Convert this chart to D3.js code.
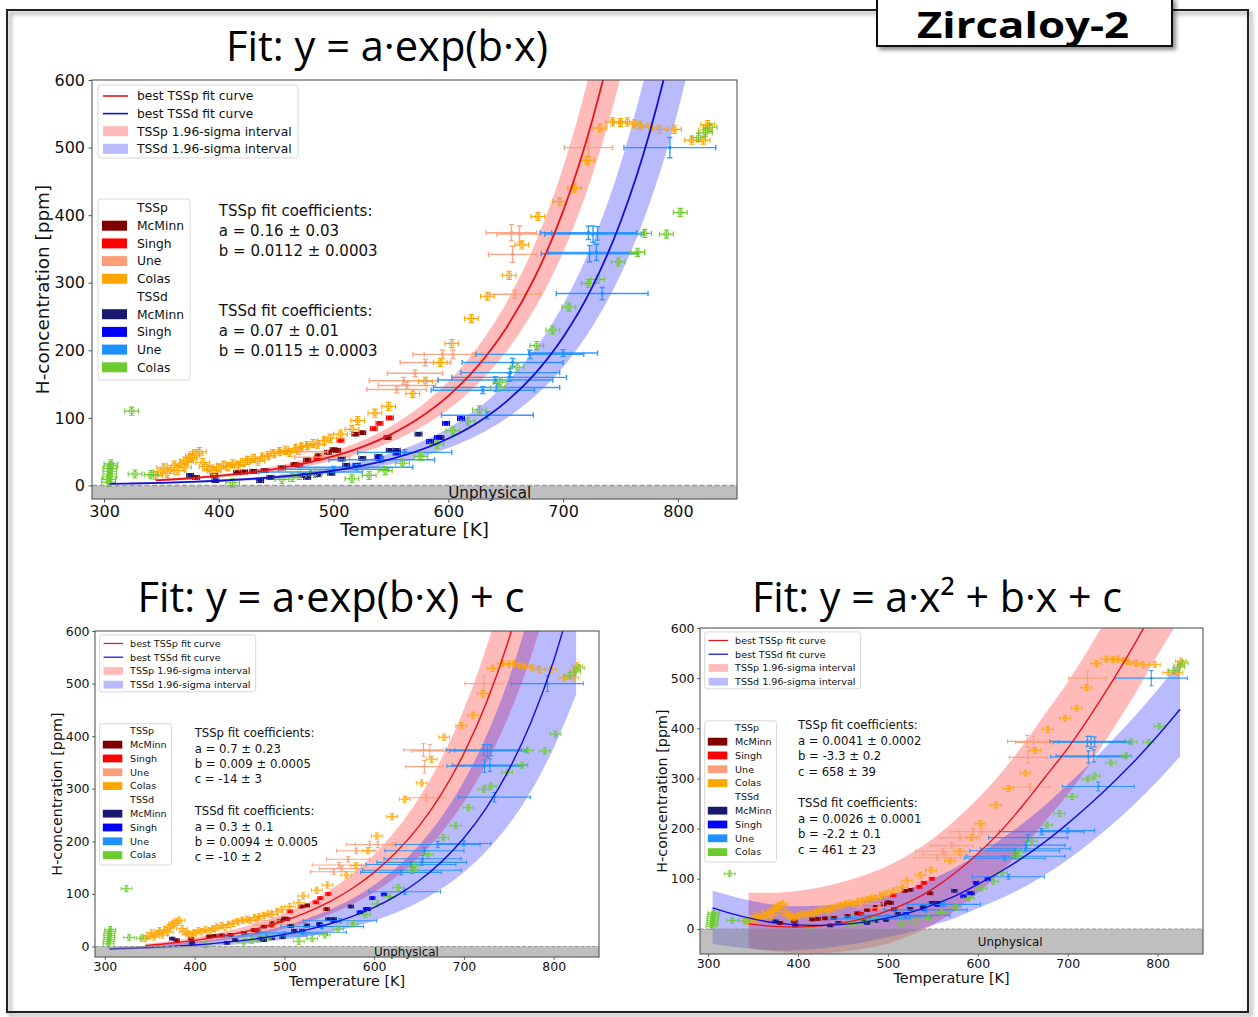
<!DOCTYPE html>
<html>
<head>
<meta charset="utf-8">
<script src="https://cdn.jsdelivr.net/npm/d3@7"></script>
<style>
  body { margin: 0; background: #fff; }
  svg { display: block; }
</style>
</head>
<body>
<svg id="chart" width="1258" height="1017"></svg>
<script>
// ---------- data ----------
const tickT = [300, 400, 500, 600, 700, 800];
const tickH = [0, 100, 200, 300, 400, 500, 600];

const seriesNames = ["McMinn", "Singh", "Une", "Colas"];
const tsspColors = ["#800000", "#ff0000", "#fa9e7a", "#ffa500"];
const tssdColors = ["#191970", "#0000ff", "#1e90ff", "#6ccc2e"];

// [T, H] or [T, H, xerr, yerr]
const tsspMcMinn = [[380,12],[396,15],[416,19],[422,20],[430,21],[440,22],[455,26],[466,31],[477,38],[487,44],[495,49],[500,53],[503,52],[519,76],[525,78],[547,71]];
const tsspSingh = [[470,30],[486,40],[506,67],[535,84],[540,92],[549,100]];
const tsspUne = [[470,50,25,4],[490,42,24,4],[555,142,26,5],[561,155,30,5],[564,148,25,5],[571,166,24,5],[580,182,22,5],[595,194,26,6],[604,194,25,6],[658,283,22,6],[656,342,21,12],[655,374,22,12],[662,372,20,12],[722,500,21,14]];
const tsspColas = [[345,15],[349,20],[352,26],[355,18],[358,24],[361,30],[364,22],[367,32],[370,27],[372,36],[375,40],[377,44],[380,47],[383,50],[386,34],[389,28],[392,24],[396,22],[400,26],[404,30],[408,28],[412,32],[417,30],[421,34],[425,37],[430,40],[434,36],[438,42],[443,44],[448,47],[453,50],[458,52],[462,49],[467,55],[472,57],[477,59],[482,62],[486,61],[492,66],[497,70],[506,76],[516,83],[521,96],[536,107],[548,117],[569,136],[580,154],[593,182],[603,210],[620,247],[634,280],[653,311],[664,356],[678,398],[697,420],[710,440],[721,481],[732,529],[743,538],[750,537],[756,538],[762,535],[767,533],[776,530],[784,527],[797,527],[812,511],[822,511],[824,526],[826,534]];

const tssdMcMinn = [[375,15],[397,7],[436,7],[445,12],[473,15],[477,12],[486,16],[498,18],[507,39],[511,30],[525,40],[539,43],[549,52],[555,52],[574,76],[593,71]];
const tssdSingh = [[520,30],[540,40],[555,48],[584,65],[591,71],[598,92],[611,99]];
const tssdUne = [[480,20,45,4],[500,24,48,4],[520,27,49,4],[542,38,46,4],[562,49,41,4],[634,104,40,5],[630,141,45,5],[642,145,55,6],[641,156,50,5],[653,160,50,6],[654,167,43,6],[656,182,44,6],[671,194,47,6],[700,196,30,5],[734,284,40,9],[723,343,42,12],[729,345,42,12],[722,374,42,10],[726,372,42,12],[730,373,40,10],[793,500,40,15]];
const tssdColas = [[304,5],[304,9],[305,13],[305,17],[305,21],[305,25],[306,29],[306,32],[324,110],[327,17],[341,16],[412,4],[455,9],[464,12],[470,15],[484,18],[516,10],[531,15],[545,22],[560,33],[576,43],[590,61],[604,81],[617,95],[627,112],[643,145],[645,153],[660,175],[677,207],[691,230],[705,264],[722,299],[730,305],[748,331],[765,345],[771,373],[790,372],[802,404],[818,515],[824,522],[828,530]];

// default error bars [xerr, yerr] for series without per-point errors
const defaultErr = { McMinn: [3, 2.5], Singh: [3, 2.5], Une: [20, 5], Colas: [6, 6] };

// fit curves and 1.96-sigma bands
const tsspT = [345,375,400,425,450,475,500,525,550,575,600,625,650,675,700,725,750,775,800,825];
const tssdT = [305,325,350,375,400,425,450,475,500,525,550,575,600,625,650,675,700,725,750,775,800,825];

// panel 1: y = a*exp(b*x)
const expP_fit = [7.6,10.7,14.1,18.7,24.7,32.7,43.3,57.2,75.7,100.2,132.6,175.5,232,307,406,538,711,941,1245,1648];
const expP_lo = [6.5,9.1,12.0,15.9,21.0,27.8,36.8,48.6,64.3,85.2,112.7,149.2,197,261,345,457,604,800,1058,1401];
const expP_hi = [8.8,12.4,16.4,21.7,28.7,37.9,50.2,66.4,87.8,116.2,153.8,203.6,269,356,471,624,825,1092,1444,1912];
const expD_fit = [2.3,2.9,3.9,5.2,7.0,9.3,12.4,16.5,22.0,29.3,39.1,52.1,69.5,92.6,123.4,164.5,219.3,292.4,389.8,519.6,692.8,923];
const expD_lo = [1.8,2.3,3.1,4.2,5.6,7.4,9.9,13.2,17.6,23.4,31.3,41.7,55.6,74.1,98.7,131.6,175.4,233.9,311.8,415.7,554.2,738];
const expD_hi = [2.8,3.6,4.8,6.3,8.5,11.3,15.1,20.1,26.8,35.7,47.7,63.6,84.8,113.0,150.5,200.7,267.5,356.7,475.6,633.9,845,1126];

// panel 2: y = a*exp(b*x) + c
const expcP_fit = [1.6,6.5,11.6,18.1,26.2,36.3,49.0,64.9,84.8,109.8,141.0,180.1,229.0,290.4,367.2,463.3,583.9,734.7,923.6,1160];
const expcP_lo = [-2.2,1.5,5.4,10.3,16.4,24.1,33.7,45.7,60.8,79.7,103.3,133.0,170.0,216.4,274.6,347.4,438.7,552.8,695.7,875];
const expcP_hi = [5.1,11.0,17.3,25.1,35.0,47.4,62.9,82.2,106.6,137.0,175.1,222.8,282.5,357.3,451.1,568.4,715.4,899,1130,1418];
const expcD_fit = [-4.7,-3.6,-1.9,0.2,2.9,6.3,10.6,16.1,23.0,31.7,42.8,56.8,74.4,96.8,125.1,160.9,206.2,263.4,335.9,427.5,543.4,690];
const expcD_lo = [-6.3,-5.5,-4.4,-2.9,-1.0,1.4,4.4,8.2,13.1,19.2,26.9,36.7,49.1,64.8,84.6,109.6,141.3,181.4,232.1,296.3,377.4,479.9];
const expcD_hi = [-2.1,-0.5,2.1,5.3,9.3,14.4,20.9,29.1,39.5,52.6,69.2,90.1,116.7,150.2,192.6,246.4,314.2,400.2,508.8,646.3,820,1040];

// panel 3: y = a*x^2 + b*x + c
const quadP_fit = [10,5,4,6,12,22,36,55,80,112,150,194,246,303,360,425,495,570,650,726];
const quadP_lo = [-38,-45,-48,-49,-45,-39,-29,-13,8,37,72,112,161,215,268,330,397,469,546,619];
const quadP_hi = [72,72,76,83,94,108,126,150,180,217,260,309,366,429,492,563,640,722,808,891];
const quadD_fit = [42,31,20,12,8,7,9,14,22,33,48,66,89,114,142,174,210,249,291,336,385,438];
const quadD_lo = [-30,-35,-40,-43,-42,-39,-33,-26,-16,-6,8,22,41,60,82,108,138,172,209,250,295,344];
const quadD_hi = [76,66,55,48,45,46,49,56,67,81,100,122,149,178,210,247,288,331,377,425,477,532];

const coefExp = [["a = 0.16 ± 0.03", "b = 0.0112 ± 0.0003"], ["a = 0.07 ± 0.01", "b = 0.0115 ± 0.0003"]];
const coefExpC = [["a = 0.7 ± 0.23", "b = 0.009 ± 0.0005", "c = -14 ± 3"], ["a = 0.3 ± 0.1", "b = 0.0094 ± 0.0005", "c = -10 ± 2"]];
const coefQuad = [["a = 0.0041 ± 0.0002", "b = -3.3 ± 0.2", "c = 658 ± 39"], ["a = 0.0026 ± 0.0001", "b = -2.2 ± 0.1", "c = 461 ± 23"]];

// ---------- layout ----------
const panels = [
  { left: 92, top: 80, w: 645, h: 419, xDom: [289.5, 851.5], yDom: [-20, 600], s: 1,
    title: "Fit: y = a·exp(b·x)", titleX: 387, titleY: 61, titleLen: 322,
    pFit: expP_fit, pLo: expP_lo, pHi: expP_hi, dFit: expD_fit, dLo: expD_lo, dHi: expD_hi, coef: coefExp },
  { left: 95, top: 631, w: 504, h: 326, xDom: [289, 850.5], yDom: [-20, 600], s: 0.78,
    title: "Fit: y = a·exp(b·x) + c", titleX: 331, titleY: 612, titleLen: 387,
    pFit: expcP_fit, pLo: expcP_lo, pHi: expcP_hi, dFit: expcD_fit, dLo: expcD_lo, dHi: expcD_hi, coef: coefExpC },
  { left: 700, top: 628, w: 503, h: 326, xDom: [291, 850.5], yDom: [-50, 600], s: 0.78,
    title: "Fit: y = a·x² + b·x + c", titleX: 937, titleY: 612, titleLen: 370,
    pFit: quadP_fit, pLo: quadP_lo, pHi: quadP_hi, dFit: quadD_fit, dLo: quadD_lo, dHi: quadD_hi, coef: coefQuad }
];

const FONT = "DejaVu Sans, sans-serif";
const svg = d3.select("#chart");
svg.append("rect").attr("width", 1258).attr("height", 1017).attr("fill", "#fff");

const defs = svg.append("defs");
const shadow = defs.append("filter").attr("id", "shadow").attr("x", "-10%").attr("y", "-10%").attr("width", "130%").attr("height", "140%");
shadow.append("feDropShadow").attr("dx", 3).attr("dy", 3).attr("stdDeviation", 2)
  .attr("flood-color", "#000").attr("flood-opacity", 0.45);

// outer frame
svg.append("path")
  .attr("d", "M877,10 H7 V1012 H1248 V10 H1172")
  .attr("fill", "none").attr("stroke", "#222").attr("stroke-width", 2)
  .attr("filter", "url(#shadow)");

// title box
svg.append("rect").attr("x", 877).attr("y", -2).attr("width", 295).attr("height", 48)
  .attr("fill", "#fff").attr("stroke", "#111").attr("stroke-width", 2)
  .attr("filter", "url(#shadow)");
svg.append("text").attr("x", 917).attr("y", 38)
  .attr("font-family", "Open Sans, sans-serif").attr("font-weight", 700).attr("font-size", 36)
  .attr("textLength", 212).attr("lengthAdjust", "spacingAndGlyphs")
  .attr("fill", "#000").text("Zircaloy-2");

panels.forEach(function(p, i) {
  const s = p.s;
  const x = d3.scaleLinear().domain(p.xDom).range([p.left, p.left + p.w]);
  const y = d3.scaleLinear().domain(p.yDom).range([p.top + p.h, p.top]);
  const g = svg.append("g");

  defs.append("clipPath").attr("id", "clip" + i)
    .append("rect").attr("x", p.left).attr("y", p.top).attr("width", p.w).attr("height", p.h);
  const plot = g.append("g").attr("clip-path", "url(#clip" + i + ")");

  // confidence bands
  function band(Ts, lo, hi) {
    return d3.area().x(function(d, k) { return x(Ts[k]); })
      .y0(function(d, k) { return y(lo[k]); })
      .y1(function(d, k) { return y(hi[k]); })
      .curve(d3.curveMonotoneX)(Ts);
  }
  plot.append("path").attr("d", band(tsspT, p.pLo, p.pHi)).attr("fill", "#ff0000").attr("fill-opacity", 0.27);
  plot.append("path").attr("d", band(tssdT, p.dLo, p.dHi)).attr("fill", "#0000ff").attr("fill-opacity", 0.27);

  // experimental points with error bars
  function drawSeries(pts, color, name) {
    const gs = plot.append("g");
    const cap = 2.6 * s;
    let d = "";
    pts.forEach(function(v) {
      const xe = v.length > 2 ? v[2] : defaultErr[name][0];
      const ye = v.length > 2 ? v[3] : defaultErr[name][1];
      const cx = x(v[0]), cy = y(v[1]);
      const x0 = x(v[0] - xe), x1 = x(v[0] + xe), y0 = y(v[1] - ye), y1 = y(v[1] + ye);
      d += "M" + x0 + "," + cy + "H" + x1;
      d += "M" + x0 + "," + (cy - cap) + "V" + (cy + cap) + "M" + x1 + "," + (cy - cap) + "V" + (cy + cap);
      d += "M" + cx + "," + y1 + "V" + y0;
      d += "M" + (cx - cap) + "," + y1 + "H" + (cx + cap) + "M" + (cx - cap) + "," + y0 + "H" + (cx + cap);
    });
    gs.append("path").attr("d", d).attr("fill", "none").attr("stroke", color)
      .attr("stroke-width", (name === "Une" ? 1.4 : 1.1) * s).attr("stroke-opacity", name === "Une" ? 0.9 : 1);
    if (name === "Colas") {
      gs.selectAll("circle").data(pts).join("circle")
        .attr("cx", function(v) { return x(v[0]); }).attr("cy", function(v) { return y(v[1]); })
        .attr("r", 2.6 * s).attr("fill", "none").attr("stroke", color).attr("stroke-width", 1 * s);
    } else {
      const m = (name === "Une" ? 3 : 4.6) * s;
      gs.selectAll("rect").data(pts).join("rect")
        .attr("x", function(v) { return x(v[0]) - m / 2; }).attr("y", function(v) { return y(v[1]) - m / 2; })
        .attr("width", m).attr("height", m).attr("fill", color);
    }
  }
  [tsspMcMinn, tsspSingh, tsspUne, tsspColas].forEach(function(pts, k) { drawSeries(pts, tsspColors[k], seriesNames[k]); });
  [tssdMcMinn, tssdSingh, tssdUne, tssdColas].forEach(function(pts, k) { drawSeries(pts, tssdColors[k], seriesNames[k]); });

  // best fit curves
  function curve(Ts, vals) {
    return d3.line().x(function(d, k) { return x(Ts[k]); }).y(function(d, k) { return y(vals[k]); })
      .curve(d3.curveMonotoneX)(Ts);
  }
  plot.append("path").attr("d", curve(tsspT, p.pFit)).attr("fill", "none").attr("stroke", "#e8141c").attr("stroke-width", 1.8 * s);
  plot.append("path").attr("d", curve(tssdT, p.dFit)).attr("fill", "none").attr("stroke", "#1010d0").attr("stroke-width", 1.8 * s);

  // unphysical region
  plot.append("rect").attr("x", p.left).attr("y", y(0)).attr("width", p.w).attr("height", y(p.yDom[0]) - y(0))
    .attr("fill", "#808080").attr("fill-opacity", 0.5);
  plot.append("line").attr("x1", p.left).attr("x2", p.left + p.w).attr("y1", y(0)).attr("y2", y(0))
    .attr("stroke", "#9a9a9a").attr("stroke-width", 1.3 * s).attr("stroke-dasharray", (5 * s) + "," + (2.5 * s));
  g.append("text").attr("x", x(636)).attr("y", y(p.yDom[0] / 2)).attr("dy", "0.35em")
    .attr("text-anchor", "middle").attr("font-family", FONT).attr("font-size", 15.2 * s)
    .attr("fill", "#111").text("Unphysical");

  // frame
  g.append("rect").attr("x", p.left).attr("y", p.top).attr("width", p.w).attr("height", p.h)
    .attr("fill", "none").attr("stroke", "#555").attr("stroke-width", 1.1);

  // axes
  const xAxis = g.append("g").attr("transform", "translate(0," + (p.top + p.h) + ")")
    .call(d3.axisBottom(x).tickValues(tickT).tickSize(3.5 * s).tickPadding(3.5 * s).tickFormat(d3.format("d")));
  const yAxis = g.append("g").attr("transform", "translate(" + p.left + ",0)")
    .call(d3.axisLeft(y).tickValues(tickH).tickSize(3.5 * s).tickPadding(3.5 * s).tickFormat(d3.format("d")));
  [xAxis, yAxis].forEach(function(a) {
    a.select(".domain").remove();
    a.selectAll("line").attr("stroke", "#555");
    a.selectAll("text").attr("font-family", FONT).attr("font-size", 16 * s).attr("fill", "#111");
  });

  g.append("text").attr("x", p.left + p.w / 2).attr("y", p.top + p.h + 37 * s)
    .attr("text-anchor", "middle").attr("font-family", FONT).attr("font-size", 18.4 * s)
    .attr("fill", "#111").text("Temperature [K]");
  g.append("text").attr("transform", "translate(" + (p.left - 49 * s) + "," + (p.top + p.h / 2) + ") rotate(-90)")
    .attr("dy", "0.35em").attr("text-anchor", "middle").attr("font-family", FONT).attr("font-size", 18.4 * s)
    .attr("fill", "#111").text("H-concentration [ppm]");

  // title
  g.append("text").attr("x", p.titleX).attr("y", p.titleY).attr("text-anchor", "middle")
    .attr("font-family", "Open Sans, sans-serif").attr("font-size", 42)
    .attr("textLength", p.titleLen).attr("lengthAdjust", "spacingAndGlyphs")
    .attr("fill", "#000").text(p.title);

  // legend 1: curves and bands
  const lf = 12.3 * s;
  const l1 = g.append("g");
  l1.append("rect").attr("x", p.left + 6 * s).attr("y", p.top + 5 * s).attr("width", 200 * s).attr("height", 73 * s)
    .attr("rx", 3 * s).attr("fill", "#fff").attr("fill-opacity", 0.85).attr("stroke", "#d8d8d8");
  const l1Items = [
    { label: "best TSSp fit curve", kind: "line", color: "#e8141c" },
    { label: "best TSSd fit curve", kind: "line", color: "#1010d0" },
    { label: "TSSp 1.96-sigma interval", kind: "patch", color: "#ff0000" },
    { label: "TSSd 1.96-sigma interval", kind: "patch", color: "#0000ff" }
  ];
  l1Items.forEach(function(it, k) {
    const ry = p.top + (16 + k * 17.6) * s;
    if (it.kind === "line") {
      l1.append("line").attr("x1", p.left + 11 * s).attr("x2", p.left + 36 * s).attr("y1", ry).attr("y2", ry)
        .attr("stroke", it.color).attr("stroke-width", 1.6 * s);
    } else {
      l1.append("rect").attr("x", p.left + 11 * s).attr("y", ry - 5 * s).attr("width", 25 * s).attr("height", 10 * s)
        .attr("fill", it.color).attr("fill-opacity", 0.27);
    }
    l1.append("text").attr("x", p.left + 45 * s).attr("y", ry).attr("dy", "0.35em")
      .attr("font-family", FONT).attr("font-size", lf).attr("fill", "#111").text(it.label);
  });

  // legend 2: data sources
  const l2 = g.append("g");
  l2.append("rect").attr("x", p.left + 6 * s).attr("y", p.top + 119 * s).attr("width", 92 * s).attr("height", 181 * s)
    .attr("rx", 3 * s).attr("fill", "#fff").attr("fill-opacity", 0.85).attr("stroke", "#d8d8d8");
  const l2Items = [{ label: "TSSp" }]
    .concat(seriesNames.map(function(n, k) { return { label: n, color: tsspColors[k] }; }))
    .concat([{ label: "TSSd" }])
    .concat(seriesNames.map(function(n, k) { return { label: n, color: tssdColors[k] }; }));
  l2Items.forEach(function(it, k) {
    const ry = p.top + (128 + k * 17.7) * s;
    if (it.color) {
      l2.append("rect").attr("x", p.left + 10 * s).attr("y", ry - 5 * s).attr("width", 25 * s).attr("height", 10 * s)
        .attr("fill", it.color);
    }
    l2.append("text").attr("x", p.left + 45 * s).attr("y", ry).attr("dy", "0.35em")
      .attr("font-family", FONT).attr("font-size", lf).attr("fill", "#111").text(it.label);
  });

  // fit coefficients
  const cg = g.append("g").attr("font-family", FONT).attr("font-size", 15 * s).attr("fill", "#111");
  const groupsHead = ["TSSp fit coefficients:", "TSSd fit coefficients:"];
  groupsHead.forEach(function(head, gi) {
    const y0 = y(406) + gi * 100 * s;
    [head].concat(p.coef[gi]).forEach(function(line, k) {
      cg.append("text").attr("x", x(400)).attr("y", y0 + k * 19.8 * s).attr("dy", "0.35em").text(line);
    });
  });
});
</script>
</body>
</html>
